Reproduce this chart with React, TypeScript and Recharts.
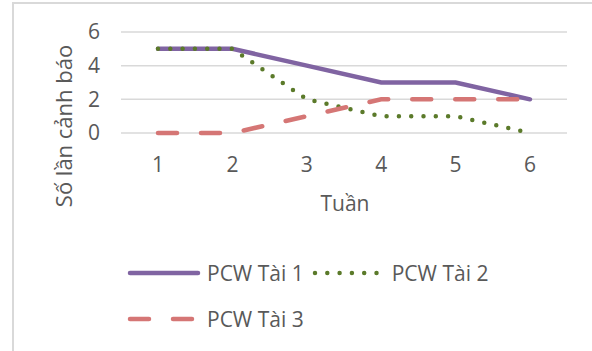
import { CartesianGrid, Line, LineChart, XAxis, YAxis } from 'recharts';

const WEEKS = ['1', '2', '3', '4', '5', '6'];
const TAI_1 = [5, 5, 4, 3, 3, 2];
const TAI_2 = [5, 5, 2, 1, 1, 0];
const TAI_3 = [0, 0, 1, 2, 2, 2];
const Y_TICKS = [0, 2, 4, 6];

const SERIES = [
  { key: 'tai1', name: 'PCW Tài 1', color: '#8064a2', dash: undefined as string | undefined },
  { key: 'tai2', name: 'PCW Tài 2', color: '#5b7a2a', dash: '0 12.3' },
  { key: 'tai3', name: 'PCW Tài 3', color: '#d57675', dash: '19 24' },
];

const data = WEEKS.map((week, i) => ({
  week,
  tai1: TAI_1[i],
  tai2: TAI_2[i],
  tai3: TAI_3[i],
}));

const FONT = '"Open Sans", sans-serif';
const TEXT = '#595959';
const LINE_W = 4.5;
const FS = 21;

// legend drawn by hand so it doesn't eat into the plot area
function ChartLegend() {
  return (
    <div
      style={{
        position: 'absolute',
        left: 127,
        top: 260,
        width: 390,
        display: 'flex',
        flexWrap: 'wrap',
        rowGap: 20,
        fontFamily: FONT,
      }}
    >
      {SERIES.map((s) => (
        <div key={s.key} style={{ display: 'flex', alignItems: 'center', height: 26, marginRight: 8 }}>
          <svg width={74} height={10} style={{ marginRight: 6 }}>
            <line
              x1={3}
              y1={5}
              x2={71}
              y2={5}
              stroke={s.color}
              strokeWidth={LINE_W}
              strokeLinecap="round"
              strokeDasharray={s.dash}
            />
          </svg>
          <span style={{ fontSize: FS, color: TEXT }}>{s.name}</span>
        </div>
      ))}
    </div>
  );
}

export default function App() {
  return (
    <div
      style={{
        position: 'absolute',
        left: 0,
        top: 0,
        width: 592,
        height: 351,
        overflow: 'hidden',
        background: '#fff',
        fontFamily: FONT,
      }}
    >
      <div
        style={{
          position: 'absolute',
          left: 12,
          top: 2,
          width: 700,
          height: 500,
          border: '2px solid #d9d9d9',
        }}
      />
      <LineChart
        width={592}
        height={351}
        data={data}
        margin={{ top: 32, right: 25, bottom: 158, left: 0 }}
        style={{ position: 'absolute', left: 0, top: 0 }}
      >
        <CartesianGrid vertical={false} stroke="#d9d9d9" strokeWidth={1.5} />
        <XAxis
          dataKey="week"
          height={60}
          axisLine={false}
          tickLine={false}
          tickSize={0}
          tickMargin={24}
          padding={{ left: 37, right: 37 }}
          tick={{ fontSize: FS, fill: TEXT, fontFamily: FONT }}
          label={{
            content: () => (
              <text x={345} y={211} textAnchor="middle" fontSize={FS} fill={TEXT} fontFamily={FONT}>
                Tuần
              </text>
            ),
          }}
        />
        <YAxis
          width={121}
          domain={[0, 6]}
          ticks={Y_TICKS}
          axisLine={false}
          tickLine={false}
          tickSize={0}
          tickMargin={21}
          tick={{ fontSize: FS, fill: TEXT, fontFamily: FONT }}
          label={{
            content: () => (
              <text
                x={63}
                y={126}
                transform="rotate(-90 63 126)"
                textAnchor="middle"
                dominantBaseline="central"
                fontSize={22}
                fill={TEXT}
                fontFamily={FONT}
              >
                Số lần cảnh báo
              </text>
            ),
          }}
        />
        {SERIES.map((s) => (
          <Line
            key={s.key}
            type="linear"
            dataKey={s.key}
            name={s.name}
            stroke={s.color}
            strokeWidth={LINE_W}
            strokeDasharray={s.dash}
            strokeLinecap="round"
            dot={false}
            activeDot={false}
            isAnimationActive={false}
          />
        ))}
      </LineChart>
      <ChartLegend />
    </div>
  );
}
